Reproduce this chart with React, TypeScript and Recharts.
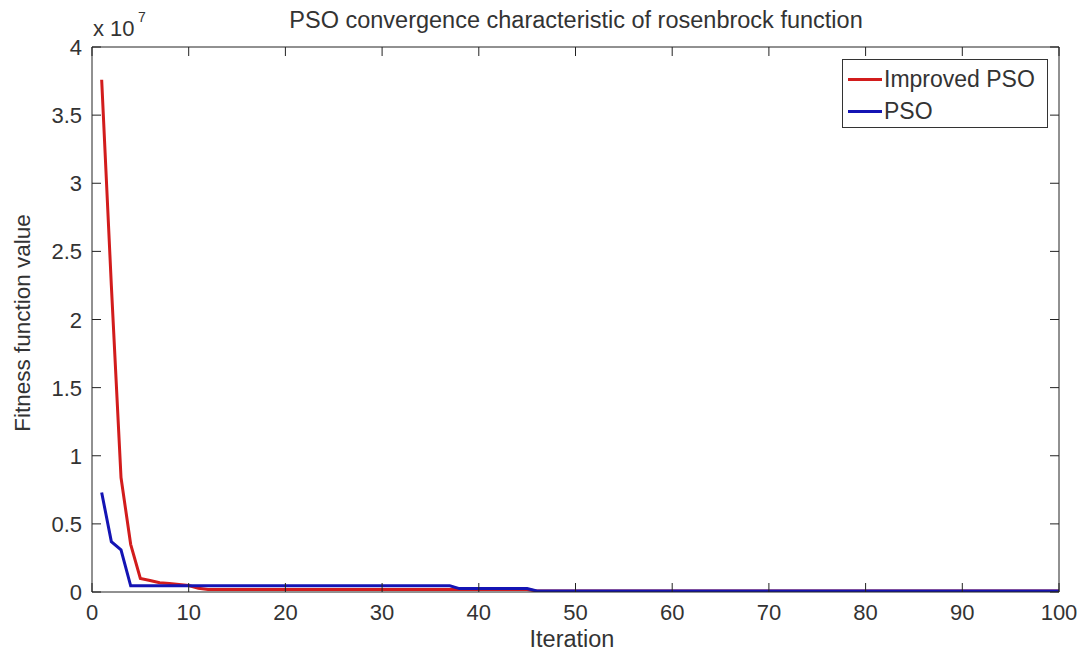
import { LineChart, Line, XAxis, YAxis, Legend } from "recharts";

// ─── Data (fitness values in units of 1e7) ────────────────────────────────────

const improvedIter = [1, 2, 3, 4, 5, 6, 7, 8, 9, 10, 11, 12, 45, 46, 100];
const improvedFit = [3.76, 2.25, 0.84, 0.35, 0.1, 0.085, 0.068, 0.062, 0.055, 0.048, 0.028, 0.018, 0.018, 0.008, 0.008];

const psoIter = [1, 2, 3, 4, 37, 38, 45, 46, 100];
const psoFit = [0.73, 0.37, 0.31, 0.045, 0.045, 0.025, 0.025, 0.008, 0.008];

const xTicks = [0, 10, 20, 30, 40, 50, 60, 70, 80, 90, 100];
const yTicks = [0, 0.5, 1, 1.5, 2, 2.5, 3, 3.5, 4];

const improvedData = improvedIter.map((x, i) => ({ x, y: improvedFit[i] }));
const psoData = psoIter.map((x, i) => ({ x, y: psoFit[i] }));

const FONT = "'Liberation Sans', Arial, sans-serif";
const AXIS = "#222";
const RED = "#d21c1c";
const BLUE = "#1414b4";
const TICK_LEN = 9;

// ─── Custom ticks (MATLAB style: inward tick marks) ───────────────────────────

function BottomTick({ x, y, payload }: any) {
    return (
        <g>
            <line x1={x} y1={y} x2={x} y2={y - TICK_LEN} stroke={AXIS} />
            <text x={x} y={y + 28} textAnchor="middle" fontSize={22} fill="#333" fontFamily={FONT}>
                {payload.value}
            </text>
        </g>
    );
}

function LeftTick({ x, y, payload }: any) {
    return (
        <g>
            <line x1={x} y1={y} x2={x + TICK_LEN} y2={y} stroke={AXIS} />
            <text x={x - 10} y={y + 8} textAnchor="end" fontSize={22} fill="#333" fontFamily={FONT}>
                {payload.value}
            </text>
        </g>
    );
}

function TopTick({ x, y }: any) {
    return <line x1={x} y1={y} x2={x} y2={y + TICK_LEN} stroke={AXIS} />;
}

function RightTick({ x, y }: any) {
    return <line x1={x} y1={y} x2={x - TICK_LEN} y2={y} stroke={AXIS} />;
}

// ─── Legend ───────────────────────────────────────────────────────────────────

function LegendBox({ payload }: any) {
    return (
        <div
            style={{
                width: 206,
                height: 69,
                border: "1px solid #333",
                background: "#fff",
                fontFamily: FONT,
                fontSize: 23,
                color: "#333",
                paddingTop: 3,
                boxSizing: "border-box",
            }}
        >
            {(payload || [])
                .filter((p: any) => p.type !== "none")
                .map((p: any) => (
                    <div key={p.value} style={{ display: "flex", alignItems: "center", height: 32 }}>
                        <span style={{ width: 34, height: 3, background: p.color, marginLeft: 5, marginRight: 2 }} />
                        <span>{p.value}</span>
                    </div>
                ))}
        </div>
    );
}

// ─── Chart ────────────────────────────────────────────────────────────────────

export default function App() {
    return (
        <div style={{ position: "absolute", left: 0, top: 0, width: 1084, height: 656, background: "#fff" }}>
            <LineChart width={1084} height={656} margin={{ top: 46, right: 24, left: 0, bottom: 0 }}>
                <XAxis
                    xAxisId="main"
                    type="number"
                    dataKey="x"
                    domain={[0, 100]}
                    ticks={xTicks}
                    allowDataOverflow
                    height={64}
                    tickSize={0}
                    tickMargin={0}
                    tickLine={false}
                    tick={<BottomTick />}
                    interval={0}
                    axisLine={{ stroke: AXIS }}
                />
                <XAxis
                    xAxisId="top"
                    orientation="top"
                    type="number"
                    dataKey="x"
                    domain={[0, 100]}
                    ticks={xTicks}
                    allowDataOverflow
                    height={1}
                    tickSize={0}
                    tickMargin={0}
                    tickLine={false}
                    tick={<TopTick />}
                    interval={0}
                    axisLine={{ stroke: AXIS }}
                />
                <YAxis
                    yAxisId="main"
                    type="number"
                    domain={[0, 4]}
                    ticks={yTicks}
                    allowDataOverflow
                    width={92}
                    tickSize={0}
                    tickMargin={0}
                    tickLine={false}
                    tick={<LeftTick />}
                    interval={0}
                    axisLine={{ stroke: AXIS }}
                />
                <YAxis
                    yAxisId="right"
                    orientation="right"
                    type="number"
                    domain={[0, 4]}
                    ticks={yTicks}
                    allowDataOverflow
                    width={1}
                    tickSize={0}
                    tickMargin={0}
                    tickLine={false}
                    tick={<RightTick />}
                    interval={0}
                    axisLine={{ stroke: AXIS }}
                />
                <Legend
                    layout="horizontal"
                    verticalAlign="middle"
                    align="center"
                    content={<LegendBox />}
                    wrapperStyle={{ left: 842, top: 59, right: "auto", bottom: "auto", width: 206 }}
                />
                {/* invisible series so the top/right box axes get rendered */}
                <Line
                    xAxisId="top"
                    yAxisId="right"
                    data={psoData}
                    dataKey="y"
                    stroke="none"
                    dot={false}
                    legendType="none"
                    isAnimationActive={false}
                />
                <Line
                    xAxisId="main"
                    yAxisId="main"
                    data={improvedData}
                    dataKey="y"
                    name="Improved PSO"
                    type="linear"
                    stroke={RED}
                    strokeWidth={3}
                    dot={false}
                    isAnimationActive={false}
                />
                <Line
                    xAxisId="main"
                    yAxisId="main"
                    data={psoData}
                    dataKey="y"
                    name="PSO"
                    type="linear"
                    stroke={BLUE}
                    strokeWidth={3}
                    dot={false}
                    isAnimationActive={false}
                />
            </LineChart>
            <svg
                width={1084}
                height={656}
                style={{ position: "absolute", left: 0, top: 0, pointerEvents: "none" }}
                fontFamily={FONT}
                fill="#333"
            >
                <text x={576} y={28} textAnchor="middle" fontSize={23.5}>
                    PSO convergence characteristic of rosenbrock function
                </text>
                <text x={93} y={36} fontSize={22}>
                    x 10
                </text>
                <text x={138} y={22} fontSize={14}>
                    7
                </text>
                <text x={572} y={647} textAnchor="middle" fontSize={23.5}>
                    Iteration
                </text>
                <text x={30} y={323} textAnchor="middle" fontSize={22.5} transform="rotate(-90 30 323)">
                    Fitness function value
                </text>
            </svg>
        </div>
    );
}
